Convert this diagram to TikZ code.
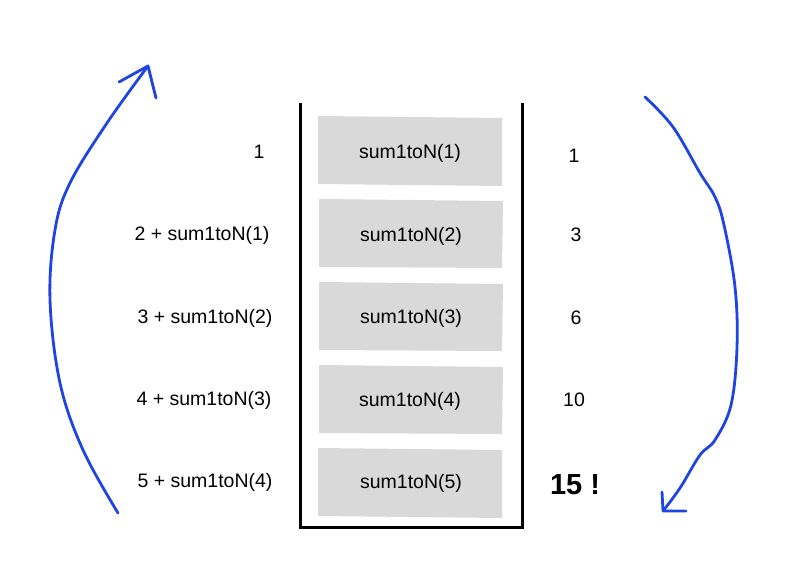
\documentclass[tikz,border=0pt]{standalone}
\usepackage{fontspec}
\setmainfont{Liberation Sans}
\definecolor{penblue}{RGB}{30,68,226}
\definecolor{boxgray}{RGB}{217,217,217}
\begin{document}
\begin{tikzpicture}[x=1pt,y=-1pt,
  frame/.style={line width=3pt},
  cell/.style={fill=boxgray},
  celltext/.style={font=\fontsize{19.5}{22}\selectfont},
  lbl/.style={font=\fontsize{19.5}{22}\selectfont},
  pen/.style={draw=penblue,line width=2.8pt,line cap=round,line join=round}]
\useasboundingbox (0,0) rectangle (811,564);
% container
\draw[frame] (300,103) -- (300,527) -- (522,527) -- (522,103);
% cells
\fill[cell] (318,116) -- (502,118) -- (502,186) -- (318,184) -- cycle;
\fill[cell] (319,199) -- (503,201) -- (502,268) -- (319,267) -- cycle;
\fill[cell] (319,282) -- (503,284) -- (502,351) -- (319,350) -- cycle;
\fill[cell] (319,365) -- (503,367) -- (502,434) -- (319,433) -- cycle;
\fill[cell] (318,448) -- (502,450) -- (502,518) -- (318,516) -- cycle;
\node[celltext] (c1) at (410,153) {sum1toN(1)};
\node[celltext] (c2) at (411,236) {sum1toN(2)};
\node[celltext] (c3) at (411,318) {sum1toN(3)};
\node[celltext] (c4) at (410,401) {sum1toN(4)};
\node[celltext] (c5) at (411,483) {sum1toN(5)};
% left labels
\node[lbl] (l1) at (259,152) {1};
\node[lbl] (l2) at (202,235) {2 + sum1toN(1)};
\node[lbl] (l3) at (205,318) {3 + sum1toN(2)};
\node[lbl] (l4) at (204,400) {4 + sum1toN(3)};
\node[lbl] (l5) at (205,482) {5 + sum1toN(4)};
% right results
\node[lbl] (r1) at (574,156) {1};
\node[lbl] (r2) at (576,235) {3};
\node[lbl] (r3) at (576,318) {6};
\node[lbl] (r4) at (574,400) {10};
\node[font=\fontsize{29}{32}\selectfont\bfseries] (r5) at (575,485) {15 !};
% left arrow (up)
\coordinate (lt) at (148,66);
\draw[pen] plot[smooth,tension=0.6] coordinates {(118,513) (83,450) (60,383) (50,300) (55,230) (70,183) (107,123) (148,66)};
\draw[pen] (119,82) -- (lt) -- (156,98);
% right arrow (down)
\coordinate (rt) at (663,511);
\draw[pen] plot[smooth,tension=0.6] coordinates {(645,97) (673,127) (700,173) (715,197) (724,225) (735,287) (737,347) (731,405) (715,440) (700,455) (680,488) (663,511)};
\draw[pen] (662,492) -- (rt) -- (686,511);
\end{tikzpicture}
\end{document}
